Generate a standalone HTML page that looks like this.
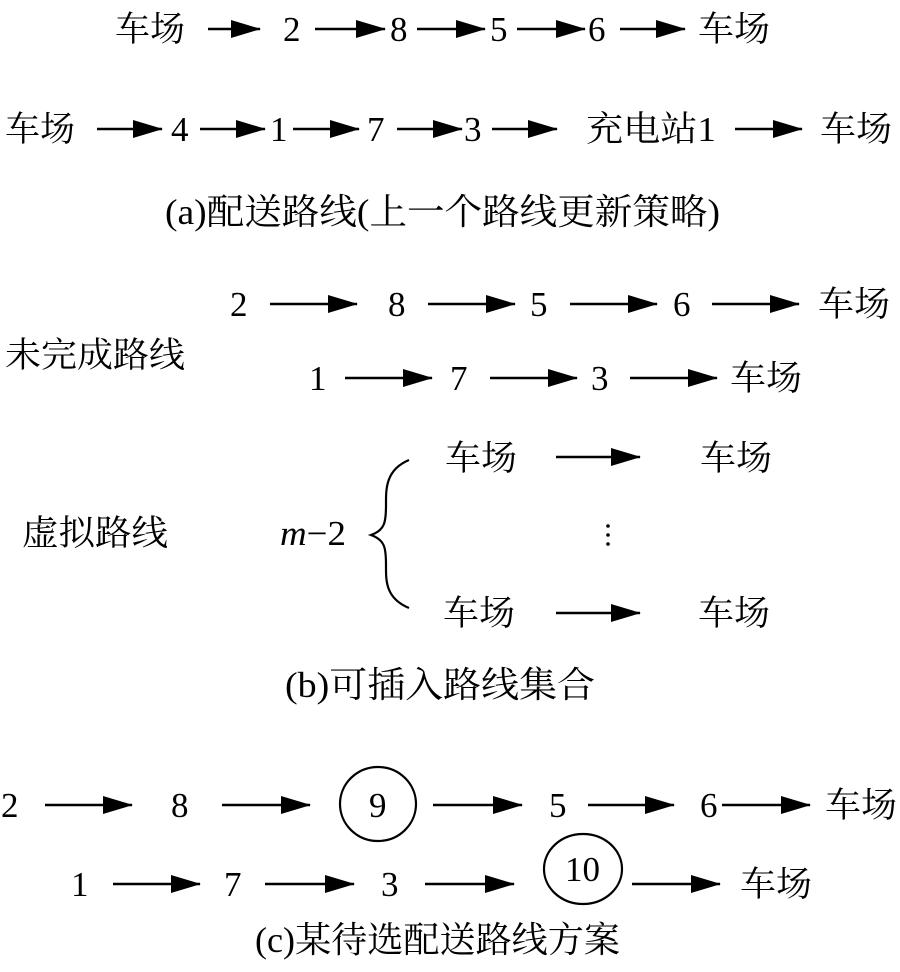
<!DOCTYPE html>
<html><head><meta charset="utf-8"><style>
html,body{margin:0;padding:0;background:#fff;}
svg text{font-family:"Liberation Serif","Noto Serif CJK SC",serif;font-size:35px;fill:#000;}
svg text.c{font-size:36px;}
</style></head><body>
<svg width="900" height="967" viewBox="0 0 900 967" xmlns="http://www.w3.org/2000/svg">
<defs>
<marker id="a" markerWidth="30" markerHeight="18" refX="29" refY="9" orient="auto" markerUnits="userSpaceOnUse">
<path d="M0,0 L30,9 L0,18 Z" fill="#000"/></marker>
</defs>
<g stroke="#000" stroke-width="2.4" marker-end="url(#a)">
<line x1="208" y1="29" x2="260" y2="29"/>
<line x1="315" y1="29" x2="385" y2="29"/>
<line x1="417" y1="29" x2="485" y2="29"/>
<line x1="517" y1="29" x2="585" y2="29"/>
<line x1="620" y1="29" x2="685" y2="29"/>
<line x1="97" y1="129" x2="162" y2="129"/>
<line x1="200" y1="129" x2="265" y2="129"/>
<line x1="293" y1="129" x2="359" y2="129"/>
<line x1="397" y1="129" x2="462" y2="129"/>
<line x1="492" y1="129" x2="557" y2="129"/>
<line x1="735" y1="129" x2="802" y2="129"/>
<line x1="270" y1="304" x2="357" y2="304"/>
<line x1="428" y1="304" x2="515" y2="304"/>
<line x1="570" y1="304" x2="657" y2="304"/>
<line x1="712" y1="304" x2="799" y2="304"/>
<line x1="345" y1="378" x2="432" y2="378"/>
<line x1="490" y1="378" x2="577" y2="378"/>
<line x1="630" y1="378" x2="717" y2="378"/>
<line x1="556" y1="457" x2="640" y2="457"/>
<line x1="556" y1="613" x2="640" y2="613"/>
<line x1="45" y1="805" x2="132" y2="805"/>
<line x1="222" y1="805" x2="310" y2="805"/>
<line x1="433" y1="805" x2="522" y2="805"/>
<line x1="588" y1="805" x2="674" y2="805"/>
<line x1="722" y1="805" x2="810" y2="805"/>
<line x1="113" y1="884" x2="200" y2="884"/>
<line x1="265" y1="884" x2="354" y2="884"/>
<line x1="425" y1="884" x2="514" y2="884"/>
<line x1="632" y1="884" x2="720" y2="884"/>
</g>
<ellipse cx="378" cy="804" rx="38" ry="37" fill="none" stroke="#000" stroke-width="2.2"/>
<ellipse cx="583" cy="869" rx="39" ry="35" fill="none" stroke="#000" stroke-width="2.2"/>
<path d="M409,460 C385,470 386,490 386,505 C386,522 385,530 371,535 C385,540 386,548 386,565 C386,580 385,598 409,608" fill="none" stroke="#000" stroke-width="2.2"/>
<circle cx="608" cy="526" r="1.8"/><circle cx="608" cy="535" r="1.8"/><circle cx="608" cy="544" r="1.8"/>

<text x="115" y="41" textLength="70" lengthAdjust="spacingAndGlyphs">车场</text>
<text x="283" y="41">2</text>
<text x="390" y="41">8</text>
<text x="490" y="41">5</text>
<text x="588" y="41">6</text>
<text x="698" y="41" textLength="72" lengthAdjust="spacingAndGlyphs">车场</text>

<text x="5" y="141" textLength="70" lengthAdjust="spacingAndGlyphs">车场</text>
<text x="171" y="141">4</text>
<text x="270" y="141">1</text>
<text x="367" y="141">7</text>
<text x="464" y="141">3</text>
<text x="586" y="141" textLength="130" lengthAdjust="spacingAndGlyphs">充电站1</text>
<text x="820" y="141" textLength="72" lengthAdjust="spacingAndGlyphs">车场</text>
<text class="c" x="165" y="224" textLength="555" lengthAdjust="spacingAndGlyphs">(a)配送路线(上一个路线更新策略)</text>

<text x="230" y="316">2</text>
<text x="388" y="316">8</text>
<text x="530" y="316">5</text>
<text x="673" y="316">6</text>
<text x="818" y="316" textLength="72" lengthAdjust="spacingAndGlyphs">车场</text>
<text x="5" y="367" textLength="180" lengthAdjust="spacingAndGlyphs">未完成路线</text>
<text x="309" y="390">1</text>
<text x="450" y="390">7</text>
<text x="591" y="390">3</text>
<text x="730" y="390" textLength="72" lengthAdjust="spacingAndGlyphs">车场</text>
<text x="445" y="470" textLength="72" lengthAdjust="spacingAndGlyphs">车场</text>
<text x="700" y="470" textLength="72" lengthAdjust="spacingAndGlyphs">车场</text>
<text x="22" y="545" textLength="146" lengthAdjust="spacingAndGlyphs">虚拟路线</text>
<text x="280" y="545" textLength="66" lengthAdjust="spacingAndGlyphs"><tspan font-style="italic">m</tspan>−2</text>
<text x="443" y="625" textLength="72" lengthAdjust="spacingAndGlyphs">车场</text>
<text x="698" y="625" textLength="72" lengthAdjust="spacingAndGlyphs">车场</text>
<text class="c" x="285" y="697" textLength="310" lengthAdjust="spacingAndGlyphs">(b)可插入路线集合</text>

<text x="1" y="817">2</text>
<text x="171" y="817">8</text>
<text x="369" y="817">9</text>
<text x="549" y="817">5</text>
<text x="700" y="817">6</text>
<text x="825" y="817" textLength="72" lengthAdjust="spacingAndGlyphs">车场</text>
<text x="71" y="896">1</text>
<text x="224" y="896">7</text>
<text x="381" y="896">3</text>
<text x="565" y="881">10</text>
<text x="740" y="896" textLength="72" lengthAdjust="spacingAndGlyphs">车场</text>
<text class="c" x="255" y="952" textLength="365" lengthAdjust="spacingAndGlyphs">(c)某待选配送路线方案</text>
</svg>
</body></html>
